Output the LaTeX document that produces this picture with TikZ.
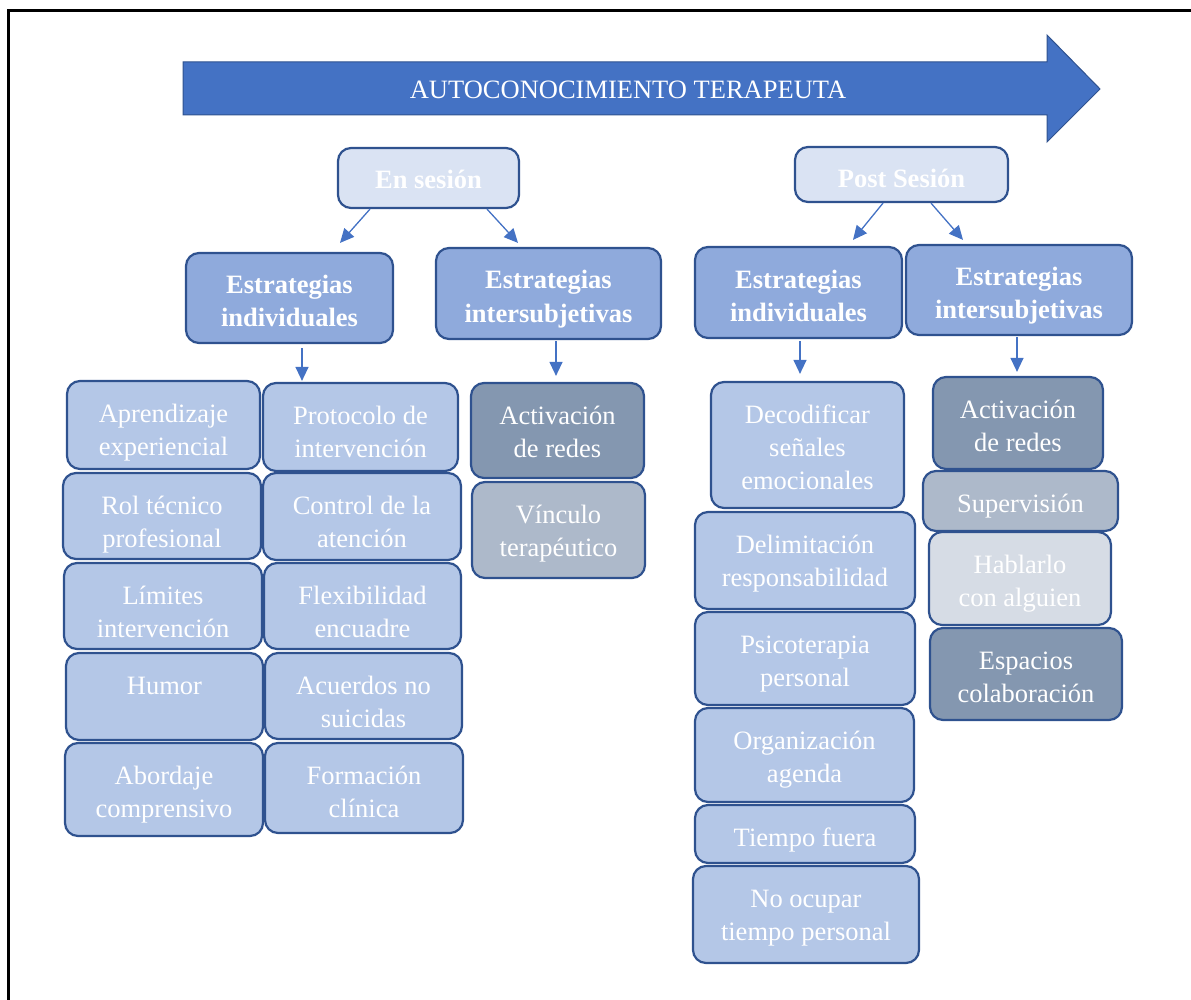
\documentclass[tikz,border=0pt]{standalone}
\usepackage{fontspec}
\setmainfont{Liberation Serif}
\usetikzlibrary{arrows.meta}

\definecolor{linea}{HTML}{2F528F}
\definecolor{azul}{HTML}{4472C4}
\definecolor{sesion}{HTML}{DAE3F3}
\definecolor{estrat}{HTML}{8FAADC}
\definecolor{claro}{HTML}{B4C7E7}
\definecolor{oscuro}{HTML}{8497B0}
\definecolor{gris}{HTML}{ADB9CA}
\definecolor{grisclaro}{HTML}{D6DCE5}

% texto anclado arriba dentro de la caja (ancho, alto, texto)
\newcommand{\bloque}[3]{\parbox[c][#2][t]{#1}{\centering\rule{0pt}{41pt}#3}}

\begin{document}
\begin{tikzpicture}[x=1pt, y=-1pt,
    caja/.style={draw=linea, line width=2.2pt, rounded corners=13pt, inner sep=0pt,
                 text=white, font=\fontsize{26.5}{33}\selectfont},
    titulo/.style={caja, fill=sesion, font=\fontsize{26.5}{33}\selectfont\bfseries},
    estrategia/.style={caja, fill=estrat, font=\fontsize{26.5}{33}\selectfont\bfseries},
    tarea/.style={caja, fill=claro},
    red/.style={caja, fill=oscuro},
    vinculo/.style={caja, fill=gris},
    charla/.style={caja, fill=grisclaro},
    flecha/.style={azul, line width=1.3pt, -{Triangle[length=14pt,width=13pt]}}]
    \useasboundingbox (0,0) rectangle (1191,1000);
    \draw[line width=3pt] (8.5,11) rectangle (1250,1050);

    % flecha grande
    \filldraw[fill=azul, draw=linea, line width=1pt] (183,62) -- (1047,62) -- (1047,35) -- (1100,89)
        -- (1047,142) -- (1047,115) -- (183,115) -- cycle;
    \node[text=white, font=\fontsize{26.5}{33}\selectfont] (auto) at (628,90) {AUTOCONOCIMIENTO TERAPEUTA};

    % en sesion
    \node[titulo] (ses) at (428.5,178) {\bloque{181pt}{60pt}{En sesión}};
    \node[estrategia] (ind) at (289.5,298) {\bloque{207pt}{90pt}{Estrategias\\individuales}};
    \node[estrategia] (esi) at (548.5,293.5) {\bloque{225pt}{91pt}{Estrategias\\intersubjetivas}};

    \node[tarea] (apr) at (163.5,425) {\bloque{193pt}{88pt}{Aprendizaje\\experiencial}};
    \node[tarea] (rol) at (162,516) {\bloque{198pt}{86pt}{Rol técnico\\profesional}};
    \node[tarea] (lim) at (163,606) {\bloque{198pt}{86pt}{Límites\\intervención}};
    \node[tarea] (hum) at (164.5,696.5) {\bloque{197pt}{87pt}{\vspace*{3pt}Humor}};
    \node[tarea] (abo) at (164,789.5) {\bloque{198pt}{93pt}{Abordaje\\comprensivo}};

    \node[tarea] (pro) at (360.5,427) {\bloque{195pt}{88pt}{Protocolo de\\intervención}};
    \node[tarea] (con) at (362,516.5) {\bloque{198pt}{87pt}{Control de la\\atención}};
    \node[tarea] (fle) at (362.5,606) {\bloque{197pt}{86pt}{Flexibilidad\\encuadre}};
    \node[tarea] (acu) at (363.5,696) {\bloque{197pt}{86pt}{Acuerdos no\\suicidas}};
    \node[tarea] (for) at (364,788) {\bloque{198pt}{90pt}{Formación\\clínica}};

    \node[red] (act) at (557.5,430.5) {\bloque{173pt}{95pt}{Activación\\de redes}};
    \node[vinculo] (vin) at (558.5,530) {\bloque{173pt}{96pt}{Vínculo\\terapéutico}};

    % post sesion
    \node[titulo] (post) at (901.5,174.5) {\bloque{213pt}{55pt}{Post Sesión}};
    \node[estrategia] (pind) at (798.5,292.5) {\bloque{207pt}{91pt}{Estrategias\\individuales}};
    \node[estrategia] (pint) at (1019,290) {\bloque{226pt}{90pt}{Estrategias\\intersubjetivas}};

    \node[tarea] (dec) at (807.5,445) {\bloque{193pt}{126pt}{Decodificar\\señales\\emocionales}};
    \node[tarea] (del) at (805,560.5) {\bloque{220pt}{97pt}{Delimitación\\responsabilidad}};
    \node[tarea] (psi) at (805,658.5) {\bloque{220pt}{93pt}{Psicoterapia\\personal}};
    \node[tarea] (org) at (804.5,755) {\bloque{219pt}{94pt}{Organización\\agenda}};
    \node[tarea] (tie) at (805,834) {\bloque{220pt}{58pt}{Tiempo fuera}};
    \node[tarea] (noo) at (806,914.5) {\bloque{226pt}{97pt}{No ocupar\\tiempo personal}};

    \node[red] (pact) at (1018,423) {\bloque{170pt}{92pt}{Activación\\de redes}};
    \node[vinculo] (sup) at (1020.5,501) {\bloque{195pt}{60pt}{Supervisión}};
    \node[charla] (hab) at (1020,578.5) {\bloque{182pt}{93pt}{Hablarlo\\con alguien}};
    \node[red] (esp) at (1026,674) {\bloque{192pt}{92pt}{Espacios\\colaboración}};

    % conectores
    \draw[flecha] ([xshift=-58.5pt]ses.south) -- ([xshift=50.5pt,yshift=9pt]ind.north);
    \draw[flecha] ([xshift=58.5pt]ses.south) -- ([xshift=-30.5pt,yshift=4pt]esi.north);
    \draw[flecha] ([xshift=-18.5pt]post.south) -- ([xshift=54.5pt,yshift=6pt]pind.north);
    \draw[flecha] ([xshift=29.5pt]post.south) -- ([xshift=-56pt,yshift=4pt]pint.north);

    \draw[flecha] ([xshift=12.5pt,yshift=-4pt]ind.south) -- ([xshift=-58.5pt,yshift=1pt]pro.north);
    \draw[flecha] ([xshift=7.5pt,yshift=-1pt]esi.south) -- ([xshift=-1.5pt,yshift=6pt]act.north);
    \draw[flecha] ([xshift=1.5pt,yshift=-2pt]pind.south) -- ([xshift=-7.5pt,yshift=7pt]dec.north);
    \draw[flecha] ([xshift=-2pt,yshift=-1pt]pint.south) -- ([xshift=-1pt,yshift=4pt]pact.north);
\end{tikzpicture}
\end{document}
